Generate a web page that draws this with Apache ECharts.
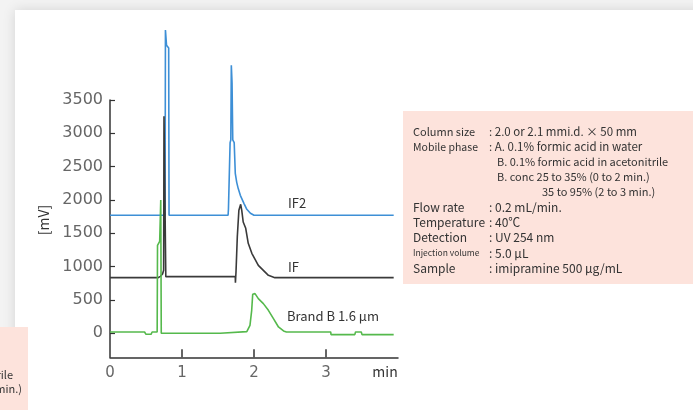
<!DOCTYPE html>
<html>
<head>
<meta charset="utf-8">
<script src="https://cdn.jsdelivr.net/npm/echarts@6/dist/echarts.min.js"></script>
<style>
  html, body { margin: 0; padding: 0; background: #f3f3f3; }
  #chart { width: 693px; height: 410px; }
</style>
</head>
<body>
<div id="chart"></div>
<script>
// ---- data (time in min, signal in mV) ----
const xTicks = [0, 1, 2, 3];
const yTicks = [0, 500, 1000, 1500, 2000, 2500, 3000, 3500];

const timeIF2 = [0, 0.765, 0.77, 0.78, 0.785, 0.815, 0.82, 1.64, 1.645, 1.66, 1.668, 1.678, 1.685, 1.69, 1.695, 1.70, 1.705, 1.725, 1.74, 1.76, 1.78, 1.81, 1.86, 1.90, 1.95, 2.00, 3.94];
const valIF2  = [1770, 1770, 4550, 4550, 4320, 4280, 1770, 1770, 1860, 1880, 2860, 2900, 4020, 4010, 3760, 3750, 2900, 2860, 2400, 2265, 2175, 2070, 1950, 1860, 1800, 1770, 1770];

const timeIF = [0, 0.67, 0.70, 0.73, 0.745, 0.75, 0.77, 0.775, 1.74, 1.742, 1.746, 1.75, 1.768, 1.79, 1.815, 1.83, 1.85, 1.885, 1.92, 1.97, 2.06, 2.13, 2.20, 2.29, 3.94];
const valIF  = [835, 835, 855, 890, 945, 3255, 3255, 850, 850, 760, 760, 920, 1445, 1845, 1935, 1845, 1670, 1575, 1350, 1200, 1020, 945, 870, 835, 835];

const timeB = [0, 0.48, 0.50, 0.53, 0.55, 0.57, 0.585, 0.655, 0.66, 0.675, 0.69, 0.705, 0.712, 1.53, 1.535, 1.90, 1.944, 1.968, 1.982, 2.014, 2.06, 2.13, 2.20, 2.27, 2.34, 2.41, 2.45, 3.065, 3.07, 3.40, 3.41, 3.49, 3.50, 3.94];
const valB  = [20, 20, -15, -15, 10, -15, 20, 20, 1320, 1350, 1380, 2000, 0, 0, 25, 25, 120, 345, 585, 595, 520, 445, 345, 220, 95, 35, 20, 20, -20, -20, 20, 20, -20, -20];

const seriesNames = ['IF2', 'IF', 'Brand B 1.6 μm'];
const seriesColors = ['#3d8fd6', '#3a3a3a', '#55b94c'];

const pair = (t, v) => t.map((x, i) => [x, v[i]]);

const chart = echarts.init(document.getElementById('chart'), null, { renderer: 'canvas' });
const txt = '#333';
const axisFont = 'DejaVu Sans';
const jpFont = '"Noto Sans CJK JP", "Noto Sans", sans-serif';

function t(x, y, text, size, opts) {
  return {
    type: 'text', x: x, y: y, z: 50,
    style: Object.assign({ text: text, fill: txt, font: size + 'px ' + jpFont, verticalAlign: 'middle', align: 'left' }, (opts || {}))
  };
}

const infoRows = [
  [132, 'Column size', 11, ': 2.0 or 2.1 mmi.d. × 50 mm'],
  [147, 'Mobile phase', 10.5, ': A. 0.1% formic acid in water'],
  [207, 'Flow rate', 12, ': 0.2 mL/min.'],
  [222, 'Temperature', 12, ': 40℃'],
  [237, 'Detection', 12, ': UV 254 nm'],
  [253, 'Injection volume', 8.5, ': 5.0 μL'],
  [268, 'Sample', 12, ': imipramine 500 μg/mL']
];
const graphics = [
  { type: 'rect', z: -10, shape: { x: 15, y: 10, width: 700, height: 420 },
    style: { fill: '#ffffff', shadowBlur: 12, shadowColor: 'rgba(0,0,0,0.13)' } },
  { type: 'rect', z: 5, shape: { x: 403, y: 111, width: 290, height: 173 }, style: { fill: '#fde3dc' } },
  { type: 'rect', z: 5, shape: { x: 0, y: 327, width: 28, height: 83 }, style: { fill: '#fde3dc' } },
  t(13, 375, 'B. 0.1% formic acid in acetonitrile', 11, { align: 'right' }),
  t(22, 389, '35 to 95% (2 to 3 min.)', 11, { align: 'right' }),
  t(497, 162, 'B. 0.1% formic acid in acetonitrile', 11),
  t(497, 177, 'B. conc 25 to 35% (0 to 2 min.)', 11),
  t(542, 192, '35 to 95% (2 to 3 min.)', 11),
  t(288, 203, 'IF2', 13),
  t(288, 267, 'IF', 13),
  t(287, 316, 'Brand B 1.6 μm', 13),
  t(385, 372, 'min', 14, { align: 'center' }),
  { type: 'text', x: 44, y: 220, rotation: Math.PI / 2, z: 50,
    style: { text: '[mV]', fill: txt, font: '14px ' + jpFont, align: 'center', verticalAlign: 'middle' } }
];
infoRows.forEach(r => {
  graphics.push(t(413, r[0], r[1], r[2]));
  graphics.push(t(489, r[0], r[3], r[1] === 'Column size' || r[1] === 'Mobile phase' ? 11.5 : 12));
});

chart.setOption({
  animation: false,
  backgroundColor: 'transparent',
  grid: { left: 110, right: 295, top: 100, bottom: 52.7, containLabel: false },
  xAxis: {
    type: 'value', min: 0, max: 4, interval: 1,
    axisLine: { show: true, onZero: false, lineStyle: { color: '#333', width: 1.5 } },
    axisTick: { show: true, inside: true, length: 8, lineStyle: { color: '#333', width: 1.5 },
      customValues: [1, 2, 3] },
    axisLabel: { customValues: xTicks, color: '#666', fontFamily: axisFont, fontSize: 15, margin: 8 },
    splitLine: { show: false }
  },
  yAxis: {
    type: 'value', min: -360, max: 3500,
    axisLine: { show: true, onZero: false, lineStyle: { color: '#333', width: 1.5 } },
    axisTick: { show: true, inside: true, length: 5, customValues: yTicks, lineStyle: { color: '#333', width: 1.2 } },
    axisLabel: { customValues: yTicks, formatter: v => String(v), color: '#666', fontFamily: axisFont, fontSize: 16, margin: 7 },
    splitLine: { show: false }
  },
  graphic: graphics,
  series: [
    { name: seriesNames[0], type: 'line', data: pair(timeIF2, valIF2), clip: false, showSymbol: false,
      lineStyle: { color: seriesColors[0], width: 1.6 }, itemStyle: { color: seriesColors[0] } },
    { name: seriesNames[1], type: 'line', data: pair(timeIF, valIF), clip: false, showSymbol: false,
      lineStyle: { color: seriesColors[1], width: 1.6 }, itemStyle: { color: seriesColors[1] } },
    { name: seriesNames[2], type: 'line', data: pair(timeB, valB), clip: false, showSymbol: false,
      lineStyle: { color: seriesColors[2], width: 1.6 }, itemStyle: { color: seriesColors[2] } }
  ]
});
</script>
</body>
</html>
